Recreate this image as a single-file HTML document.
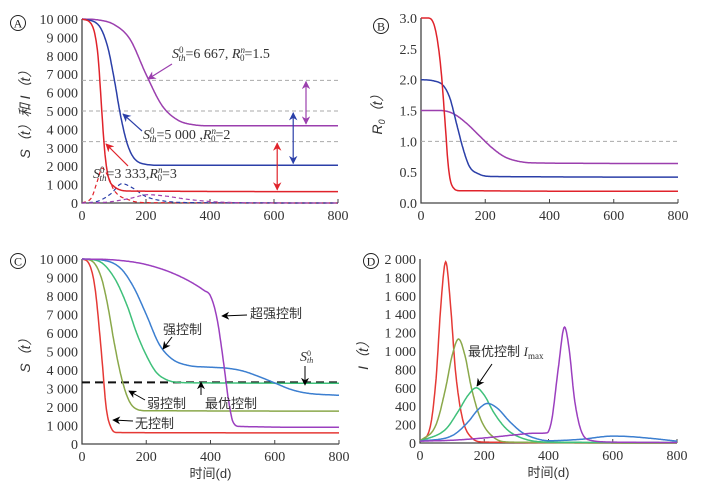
<!DOCTYPE html>
<html><head><meta charset="utf-8"><style>
body{margin:0;background:#fff}
svg{font-family:"Liberation Serif","Noto Serif CJK SC",serif}
.t{font-size:14px;fill:#333}
.cn{font-family:"Liberation Sans","Noto Sans CJK SC",sans-serif;font-size:13px;fill:#333}
</style></head><body>
<svg id="c" width="708" height="483" xmlns="http://www.w3.org/2000/svg">
<defs>
<marker id="ah" viewBox="0 0 10 10" refX="9" refY="5" markerWidth="7" markerHeight="7" orient="auto-start-reverse"><path d="M0,0L10,5L0,10L3,5z" fill="context-stroke"/></marker>
<marker id="ak" viewBox="0 0 10 10" refX="9" refY="5" markerWidth="8" markerHeight="8" orient="auto"><path d="M0,0L10,5L0,10L3,5z" fill="#000"/></marker>
</defs>
</svg>
<script>
// Panel A data (time, value)
const aPurpleS_t=[0,50,100,150,200,250,300,350,400,800];
const aPurpleS_v=[10000,9950,9700,8900,7000,5300,4500,4250,4200,4200];
const aBlueS_t=[0,50,80,100,120,140,160,200,250,800];
const aBlueS_v=[10000,9700,8500,6800,4800,3300,2500,2100,2050,2050];
const aRedS_t=[0,30,50,60,70,80,100,150,800];
const aRedS_v=[10000,9700,8000,5500,3000,1600,900,650,620];
const aRedI_t=[0,30,50,63,80,100,150,200,800];
const aRedI_v=[0,300,1300,1900,1500,700,150,20,0];
const aBlueI_t=[0,50,90,125,160,200,260,350,800];
const aBlueI_v=[0,100,500,1050,800,350,100,20,0];
const aPurpleI_t=[0,80,150,205,260,330,420,550,800];
const aPurpleI_v=[0,50,250,450,380,200,60,10,0];
const aThresholds=[6667,5000,3333];
// Panel B data
const bRed_t=[0,20,40,55,65,75,85,95,120,800];
const bRed_v=[3.0,3.0,2.9,2.5,2.0,1.3,0.6,0.3,0.2,0.19];
const bBlue_t=[0,40,70,90,110,130,150,180,220,800];
const bBlue_v=[2.0,1.98,1.9,1.7,1.3,0.9,0.6,0.47,0.43,0.42];
const bPurple_t=[0,60,100,140,180,220,260,300,350,800];
const bPurple_v=[1.5,1.5,1.45,1.3,1.1,0.9,0.75,0.68,0.65,0.64];
// Panel C data
const cRed_t=[0,20,40,55,65,75,90,110,800];
const cRed_v=[10000,9800,8500,6000,4000,2000,900,620,600];
const cOlive_t=[0,30,60,80,100,120,140,160,200,800];
const cOlive_v=[10000,9900,9000,7500,5500,3800,2600,2000,1800,1780];
const cGreen_t=[0,50,100,140,170,200,230,260,300,400,800];
const cGreen_v=[10000,9900,9000,7500,6000,4800,3900,3500,3330,3300,3280];
const cBlue_t=[0,60,120,160,200,240,280,330,400,450,500,550,600,650,700,800];
const cBlue_v=[10000,9950,9500,8500,7000,5400,4600,4250,4150,4100,3950,3650,3300,2950,2750,2630];
const cPurple_t=[0,100,200,300,380,400,420,440,455,470,490,800];
const cPurple_v=[10000,9950,9700,9100,8300,8000,6800,4500,2500,1200,950,900];
// Panel D data
const dRed_t=[0,30,50,65,80,95,110,130,160,200,800];
const dRed_v=[20,150,700,1500,1970,1500,800,300,60,10,0];
const dOlive_t=[0,50,80,100,120,140,160,190,230,280,800];
const dOlive_v=[20,200,600,950,1130,950,600,250,60,10,0];
const dGreen_t=[0,80,120,150,175,200,230,270,320,400,800];
const dGreen_v=[20,150,350,520,600,520,330,150,50,10,5];
const dBlue_t=[0,100,150,180,210,240,280,320,370,400,500,600,650,720,800];
const dBlue_v=[20,80,230,360,430,380,230,110,40,25,40,75,70,50,20];
const dPurple_t=[0,100,200,300,350,395,410,430,450,465,480,500,530,600,800];
const dPurple_v=[20,30,55,90,105,110,250,800,1260,1000,500,150,30,10,5];
const xTicks=[0,200,400,600,800];
const sTickLabels=["0","1 000","2 000","3 000","4 000","5 000","6 000","7 000","8 000","9 000","10 000"];
const bTickLabels=["0.0","0.5","1.0","1.5","2.0","2.5","3.0"];
const dTickLabels=["0","200","400","600","800","1 000","1 200","1 400","1 600","1 800","2 000"];

const svg=document.getElementById('c');
const NS="http://www.w3.org/2000/svg";
function mk(tag,attrs,parent){const e=document.createElementNS(NS,tag);for(const k in attrs)e.setAttribute(k,attrs[k]);(parent||svg).appendChild(e);return e;}
function panel(x0,x1,yb,yt,ymax){return{sx:t=>x0+(x1-x0)*t/800,sy:v=>yb-(yb-yt)*v/ymax,x0,x1,yb,yt};}
const PA=panel(82,338,203,19,10000),PB=panel(421,678,203,18,3),PC=panel(82,339,444,259,10000),PD=panel(420,677,443,259,2000);

function mono(ts,vs){const n=ts.length,d=[],m=[];for(let i=0;i<n-1;i++)d.push((vs[i+1]-vs[i])/(ts[i+1]-ts[i]));
 m[0]=d[0];m[n-1]=d[n-2];for(let i=1;i<n-1;i++){m[i]=(d[i-1]*d[i]<=0)?0:(d[i-1]+d[i])/2;}
 for(let i=0;i<n-1;i++){if(d[i]===0){m[i]=0;m[i+1]=0;continue;}const a=m[i]/d[i],b=m[i+1]/d[i],s=a*a+b*b;if(s>9){const tau=3/Math.sqrt(s);m[i]=tau*a*d[i];m[i+1]=tau*b*d[i];}}
 return t=>{let i=0;while(i<n-2&&t>ts[i+1])i++;const h=ts[i+1]-ts[i],u=(t-ts[i])/h;const h00=2*u*u*u-3*u*u+1,h10=u*u*u-2*u*u+u,h01=-2*u*u*u+3*u*u,h11=u*u*u-u*u;return h00*vs[i]+h10*h*m[i]+h01*vs[i+1]+h11*h*m[i+1];};}
function series(P,ts,vs,color,name,dash){const f=mono(ts,vs);let d="";for(let t=0;t<=800;t+=2){d+=(t?"L":"M")+P.sx(t).toFixed(1)+","+P.sy(f(t)).toFixed(1);}
 const p=mk('path',{d,fill:'none',stroke:color,'stroke-width':dash?1.2:1.5});if(dash)p.setAttribute('stroke-dasharray','4,3');
 
 }
function axes(P,labels,ymax,nm,xtitle){const g=mk('g',{});
 
 
 mk('path',{d:`M${P.x0},${P.yt}V${P.yb}H${P.x1}`,fill:'none',stroke:'#444','stroke-width':1.3},g);
 xTicks.forEach(t=>{mk('line',{x1:P.sx(t),x2:P.sx(t),y1:P.yb,y2:P.yb-4,stroke:'#444'},g);const tx=mk('text',{x:P.sx(t),y:P.yb+17,'text-anchor':'middle',class:'t'},g);tx.textContent=t;});
 labels.forEach((l,i)=>{const v=ymax*i/(labels.length-1);const tx=mk('text',{x:P.x0-4,y:P.sy(v)+5,'text-anchor':'end',class:'t'},g);tx.textContent=l;});
 if(xtitle){const tx=mk('text',{x:(P.x0+P.x1)/2,y:P.yb+34,'text-anchor':'middle',class:'cn'},g);tx.textContent='时间(d)';}}
function hline(P,v,color,dash,name,w){const l=mk('line',{x1:P.x0,x2:P.x1,y1:P.sy(v),y2:P.sy(v),stroke:color,'stroke-dasharray':dash,'stroke-width':w||1});
 
 }
function txt(x,y,s,cls,name,anchor){const t=mk('text',{x,y,class:cls,'text-anchor':anchor||'start'});t.innerHTML=s;
 
 return t;}
function arrow(x1,y1,x2,y2,color,name,both){const l=mk('line',{x1,y1,x2,y2,stroke:color,'stroke-width':1.2,'marker-end':'url(#ah)'});if(both)l.setAttribute('marker-start','url(#ah)');
 
 }
function badge(x,y,s,name){const c=mk('circle',{cx:x,cy:y,r:7.5,fill:'none',stroke:'#222'});
 mk('text',{x,y:y+4.5,'text-anchor':'middle',style:'font-size:12px;fill:#222'}).textContent=s;}
function ytitle(x,y,s,name){const t=mk('text',{x,y,transform:`rotate(-90 ${x} ${y})`,'text-anchor':'middle',class:'cn',style:'font-size:14px;font-style:italic'});t.innerHTML=s;
 
 }

// Panel A
axes(PA,sTickLabels,10000,'panel-a',false);
aThresholds.forEach((v,i)=>hline(PA,v,'#aaa','4,3','threshold-line-'+i));
series(PA,aRedI_t,aRedI_v,'#e0232b','a-red-infected',true);
series(PA,aBlueI_t,aBlueI_v,'#2b3fa8','a-blue-infected',true);
series(PA,aPurpleI_t,aPurpleI_v,'#a040b0','a-purple-infected',true);
series(PA,aPurpleS_t,aPurpleS_v,'#9b3fae','a-purple-susceptible');
series(PA,aBlueS_t,aBlueS_v,'#2b3fa8','a-blue-susceptible');
series(PA,aRedS_t,aRedS_v,'#e0232b','a-red-susceptible');
arrow(PA.sx(700),PA.sy(6600),PA.sx(700),PA.sy(4300),'#9b3fae','a-purple-gap-arrow',true);
arrow(PA.sx(660),PA.sy(4900),PA.sx(660),PA.sy(2150),'#2b3fa8','a-blue-gap-arrow',true);
arrow(PA.sx(610),PA.sy(3250),PA.sx(610),PA.sy(720),'#e0232b','a-red-gap-arrow',true);
txt(172,58,'<tspan font-style="italic">S</tspan><tspan font-size="9" dy="-5">0</tspan><tspan font-size="9" dx="-5" dy="8" font-style="italic">th</tspan><tspan dy="-3">=6 667, </tspan><tspan font-style="italic">R</tspan><tspan font-size="9" dy="-5" font-style="italic">n</tspan><tspan font-size="9" dx="-5" dy="8">0</tspan><tspan dy="-3">=1.5</tspan>','t','a-purple-label');
arrow(172,64,148,79,'#9b3fae','a-purple-label-arrow');
txt(143,139,'<tspan font-style="italic">S</tspan><tspan font-size="9" dy="-5">0</tspan><tspan font-size="9" dx="-5" dy="8" font-style="italic">th</tspan><tspan dy="-3">=5 000 ,</tspan><tspan font-style="italic">R</tspan><tspan font-size="9" dy="-5" font-style="italic">n</tspan><tspan font-size="9" dx="-5" dy="8">0</tspan><tspan dy="-3">=2</tspan>','t','a-blue-label');
arrow(142,131,123,114,'#2b3fa8','a-blue-label-arrow');
txt(93,178,'<tspan font-style="italic">S</tspan><tspan font-size="9" dy="-5">0</tspan><tspan font-size="9" dx="-5" dy="8" font-style="italic">th</tspan><tspan dy="-3">=3 333,</tspan><tspan font-style="italic">R</tspan><tspan font-size="9" dy="-5" font-style="italic">n</tspan><tspan font-size="9" dx="-5" dy="8">0</tspan><tspan dy="-3">=3</tspan>','t','a-red-label');
arrow(128,166,106,144,'#e0232b','a-red-label-arrow');
badge(18,23,'A','panel-a-badge');
ytitle(30,111,'S（t）和 I（t）','a-y-axis-title');

// Panel B
axes(PB,bTickLabels,3,'panel-b',false);
hline(PB,1.0,'#aaa','4,3','b-threshold-line');
series(PB,bPurple_t,bPurple_v,'#9b3fae','b-purple-r0');
series(PB,bBlue_t,bBlue_v,'#2b3fa8','b-blue-r0');
series(PB,bRed_t,bRed_v,'#e0232b','b-red-r0');
badge(381,26,'B','panel-b-badge');
ytitle(382,111,'R<tspan font-size="9" dy="3">0</tspan><tspan dy="-3">（t）</tspan>','b-y-axis-title');

// Panel C
axes(PC,sTickLabels,10000,'panel-c',true);
hline(PC,3333,'#111','8,5','c-threshold-line',2);
series(PC,cRed_t,cRed_v,'#e53935','c-no-control');
series(PC,cOlive_t,cOlive_v,'#8aa84a','c-weak-control');
series(PC,cGreen_t,cGreen_v,'#3fc07a','c-optimal-control');
series(PC,cBlue_t,cBlue_v,'#3c7fd0','c-strong-control');
series(PC,cPurple_t,cPurple_v,'#9b3fbf','c-super-strong-control');
txt(250,318,'超强控制','cn','c-super-strong-label');
mk('line',{x1:247,y1:315,x2:222,y2:316,stroke:'#000','marker-end':'url(#ak)'});
txt(163,334,'强控制','cn','c-strong-label');
mk('line',{x1:172,y1:337,x2:163,y2:349,stroke:'#000','marker-end':'url(#ak)'});
txt(147,408,'弱控制','cn','c-weak-label');
mk('line',{x1:145,y1:400,x2:129,y2:391,stroke:'#000','marker-end':'url(#ak)'});
txt(205,408,'最优控制','cn','c-optimal-label');
mk('line',{x1:201,y1:395,x2:201,y2:382,stroke:'#000','marker-end':'url(#ak)'});
txt(135,428,'无控制','cn','c-no-control-label');
mk('line',{x1:133,y1:421,x2:113,y2:420,stroke:'#000','marker-end':'url(#ak)'});
txt(300,361,'<tspan font-style="italic">S</tspan><tspan font-size="8" dy="-5">0</tspan><tspan font-size="8" dx="-4" dy="7" font-style="italic">th</tspan>','t','c-threshold-label');
mk('line',{x1:305,y1:366,x2:305,y2:385,stroke:'#000','marker-end':'url(#ak)'});
badge(18,261,'C','panel-c-badge');
ytitle(30,352,'S（t）','c-y-axis-title');

// Panel D
axes(PD,dTickLabels,2000,'panel-d',true);
series(PD,dRed_t,dRed_v,'#e53935','d-no-control');
series(PD,dOlive_t,dOlive_v,'#8aa84a','d-weak-control');
series(PD,dGreen_t,dGreen_v,'#3fc07a','d-optimal-control');
series(PD,dBlue_t,dBlue_v,'#3c7fd0','d-strong-control');
series(PD,dPurple_t,dPurple_v,'#9b3fbf','d-super-strong-control');
txt(468,356,'最优控制 <tspan font-family="Liberation Serif" font-style="italic">I</tspan><tspan font-family="Liberation Serif" font-size="9" dy="3">max</tspan>','cn','d-optimal-imax-label');
mk('line',{x1:492,y1:364,x2:477,y2:386,stroke:'#000','marker-end':'url(#ak)'});
badge(371,261,'D','panel-d-badge');
ytitle(368,352,'I（t）','d-y-axis-title');
</script>
</body></html>
